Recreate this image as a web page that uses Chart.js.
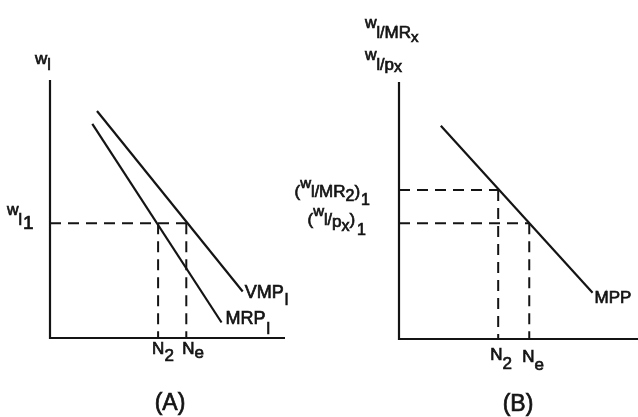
<!DOCTYPE html>
<html>
<head>
<meta charset="utf-8">
<script src="https://cdn.jsdelivr.net/npm/chart.js@4.4.0/dist/chart.umd.min.js"></script>
<style>
  html, body { margin: 0; padding: 0; background: #fff; }
  #wrap { position: relative; width: 638px; height: 417px; }
  canvas { position: absolute; left: 0; top: 0; }
</style>
</head>
<body>
<div id="wrap">
  <canvas id="chartA" width="638" height="417"></canvas>
  <canvas id="chartB" width="638" height="417"></canvas>
</div>
<script>
// axis ranges (both panels, arbitrary units)
const axisMin = 0;
const axisMax = 10;

// panel A: VMP and MRP of labour
const vmpX = [2.0, 8.2];
const vmpY = [8.8, 1.8];
const mrpX = [1.8, 7.3];
const mrpY = [8.3, 0.6];
const wageA = 4.45;
const employA = [4.6, 5.8]; // N2, Ne

// panel B: MPP with the two real-wage levels
const mppX = [1.75, 8.1];
const mppY = [8.3, 1.8];
const wageB = [5.8, 4.5]; // (w/MR2)1, (w/px)1
const employB = [4.15, 5.45]; // N2, Ne

const INK = "#141414";
const FONT = "'Liberation Sans', Arial, sans-serif";

function pts(xs, ys) {
  return xs.map((x, i) => ({ x: x, y: ys[i] }));
}

function solid(data) {
  return { data: data, borderColor: INK, borderWidth: 2.2, pointRadius: 0, fill: false, clip: false };
}
function dashed(data) {
  return { data: data, borderColor: INK, borderWidth: 2, borderDash: [11, 7], pointRadius: 0, fill: false, clip: false };
}

// draws a label made of pieces: [text, size, baseline offset, extra gap]
function partsWidth(ctx, parts) {
  let w = 0;
  parts.forEach((p) => {
    ctx.font = p[1] + "px " + FONT;
    w += ctx.measureText(p[0]).width + (p[3] || 0);
  });
  return w;
}
function drawParts(ctx, x, y, parts, align) {
  if (align == "right") x -= partsWidth(ctx, parts);
  if (align == "center") x -= partsWidth(ctx, parts) / 2;
  ctx.save();
  ctx.textAlign = "left";
  ctx.textBaseline = "alphabetic";
  ctx.fillStyle = INK;
  ctx.strokeStyle = INK;
  ctx.lineWidth = 0.7;
  parts.forEach((p) => {
    ctx.font = p[1] + "px " + FONT;
    ctx.fillText(p[0], x, y + p[2]);
    ctx.strokeText(p[0], x, y + p[2]);
    x += ctx.measureText(p[0]).width + (p[3] || 0);
  });
  ctx.restore();
}

function axesLines(chart) {
  const ctx = chart.ctx;
  const xs = chart.scales.x, ys = chart.scales.y;
  const x0 = xs.getPixelForValue(axisMin), y0 = ys.getPixelForValue(axisMin);
  ctx.save();
  ctx.strokeStyle = INK;
  ctx.lineWidth = 2.2;
  ctx.beginPath();
  ctx.moveTo(x0, ys.getPixelForValue(axisMax));
  ctx.lineTo(x0, y0);
  ctx.lineTo(xs.getPixelForValue(axisMax), y0);
  ctx.stroke();
  ctx.restore();
}

const labelsA = {
  id: "labelsA",
  afterDraw(chart) {
    const ctx = chart.ctx;
    const xs = chart.scales.x, ys = chart.scales.y;
    axesLines(chart);
    const ax = xs.getPixelForValue(axisMin);
    const top = ys.getPixelForValue(axisMax);
    const base = ys.getPixelForValue(axisMin);
    // axis title
    drawParts(ctx, ax - 15, top - 16, [["w", 17, 0, 0], ["l", 16, 6]]);
    // wage level
    const wy = ys.getPixelForValue(wageA);
    drawParts(ctx, 7, wy, [["w", 16, -8, 0], ["l", 16, 2, 1], ["1", 19, 6]]);
    // curve names
    drawParts(ctx, xs.getPixelForValue(vmpX[1]) + 2, ys.getPixelForValue(vmpY[1]) + 6,
      [["VMP", 18, 0, 1], ["l", 16, 7]]);
    drawParts(ctx, xs.getPixelForValue(mrpX[1]) + 4, ys.getPixelForValue(mrpY[1]) + 1,
      [["MRP", 18, 0, 1], ["l", 16, 10]]);
    // employment levels
    const n2 = xs.getPixelForValue(employA[0]);
    const ne = xs.getPixelForValue(employA[1]);
    drawParts(ctx, n2 - 6, base + 16, [["N", 17, 0], ["2", 17, 7]]);
    drawParts(ctx, ne - 4, base + 16, [["N", 17, 0], ["e", 17, 4]]);
    drawParts(ctx, 170, 410, [["(A)", 23, 0]], "center");
  }
};

const labelsB = {
  id: "labelsB",
  afterDraw(chart) {
    const ctx = chart.ctx;
    const xs = chart.scales.x, ys = chart.scales.y;
    axesLines(chart);
    const ax = xs.getPixelForValue(axisMin);
    const base = ys.getPixelForValue(axisMin);
    // axis titles
    drawParts(ctx, ax - 34, 38, [["w", 16, -10, 0], ["l/", 16, 0, 0], ["MR", 17, 0], ["x", 15, 4]]);
    drawParts(ctx, ax - 34, 70, [["w", 16, -10, 0], ["l/", 16, 0, 0], ["p", 17, 0], ["x", 16, 2]]);
    // wage levels
    const w1 = ys.getPixelForValue(wageB[0]);
    const w2 = ys.getPixelForValue(wageB[1]);
    drawParts(ctx, ax - 29, w1 + 7,
      [["(", 17, 0], ["w", 15, -9, 0], ["l/", 16, 0], ["MR", 17, 0], ["2", 16, 4], [")", 17, 0, 1], ["1", 16, 8]], "right");
    drawParts(ctx, ax - 33, w2 + 2,
      [["(", 17, 0], ["w", 15, -9, 0], ["l/", 16, 0], ["p", 17, 2], ["x", 16, 6], [")", 17, 0, 2], ["1", 16, 10]], "right");
    // curve name
    drawParts(ctx, xs.getPixelForValue(mppX[1]) + 2, ys.getPixelForValue(mppY[1]) + 10, [["MPP", 17, 0]]);
    // employment levels
    const n2 = xs.getPixelForValue(employB[0]);
    const ne = xs.getPixelForValue(employB[1]);
    drawParts(ctx, n2 - 8, base + 21, [["N", 17, 0], ["2", 17, 9]]);
    drawParts(ctx, ne - 7, base + 23, [["N", 17, 0], ["e", 17, 8]]);
    drawParts(ctx, 518, 411, [["(B)", 23, 0]], "center");
  }
};

function baseOptions(pad) {
  return {
    responsive: false,
    animation: false,
    layout: { padding: pad },
    plugins: { legend: { display: false }, tooltip: { enabled: false } },
    scales: {
      x: { type: "linear", min: axisMin, max: axisMax, display: false },
      y: { type: "linear", min: axisMin, max: axisMax, display: false }
    }
  };
}

new Chart(document.getElementById("chartA"), {
  type: "line",
  data: {
    datasets: [
      solid(pts(vmpX, vmpY)),
      solid(pts(mrpX, mrpY)),
      dashed([{ x: axisMin, y: wageA }, { x: employA[1], y: wageA }]),
      dashed([{ x: employA[0], y: wageA }, { x: employA[0], y: axisMin }]),
      dashed([{ x: employA[1], y: wageA }, { x: employA[1], y: axisMin }])
    ]
  },
  options: baseOptions({ left: 50, right: 353, top: 80, bottom: 79 }),
  plugins: [labelsA]
});

new Chart(document.getElementById("chartB"), {
  type: "line",
  data: {
    datasets: [
      solid(pts(mppX, mppY)),
      dashed([{ x: axisMin, y: wageB[0] }, { x: employB[0], y: wageB[0] }]),
      dashed([{ x: employB[0], y: wageB[0] }, { x: employB[0], y: axisMin }]),
      dashed([{ x: axisMin, y: wageB[1] }, { x: employB[1], y: wageB[1] }]),
      dashed([{ x: employB[1], y: wageB[1] }, { x: employB[1], y: axisMin }])
    ]
  },
  options: baseOptions({ left: 399, right: 0, top: 82, bottom: 78 }),
  plugins: [labelsB]
});
</script>
</body>
</html>
